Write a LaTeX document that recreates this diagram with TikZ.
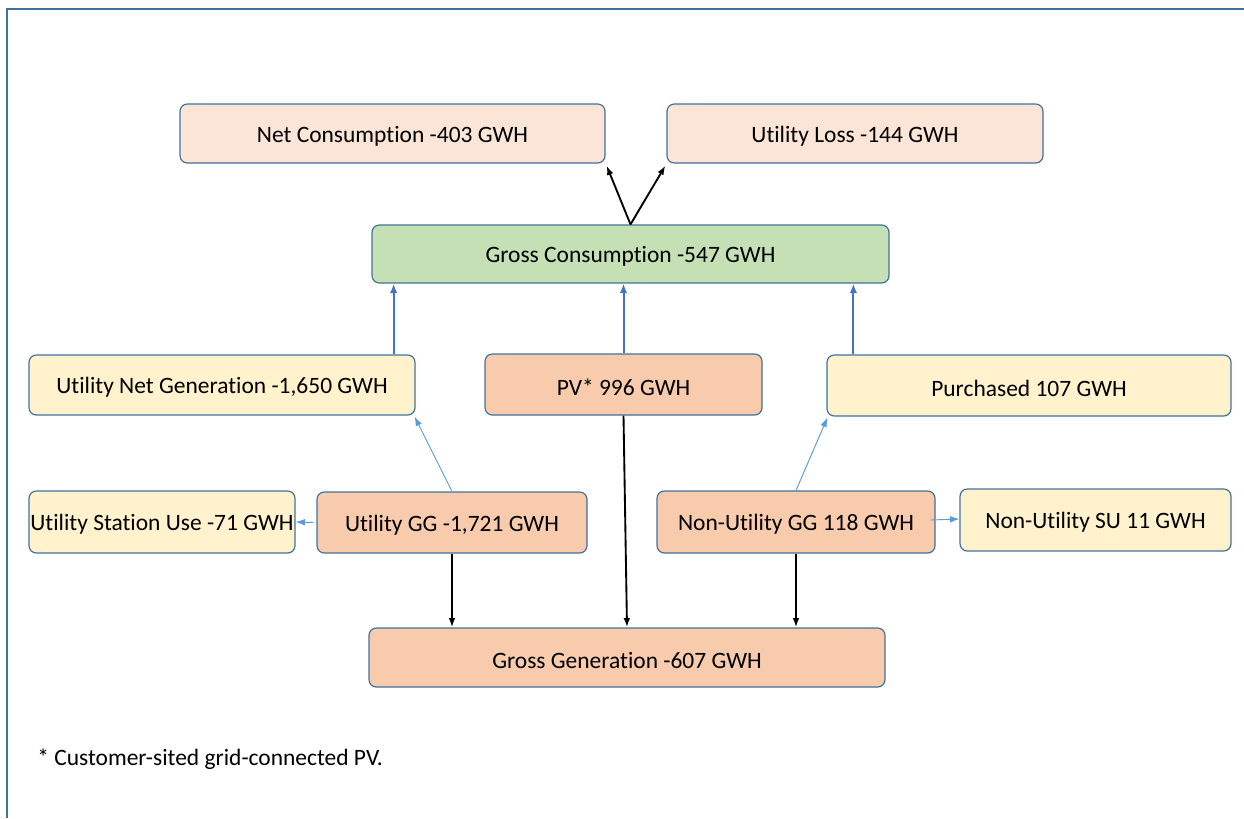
\documentclass[tikz,border=0pt]{standalone}
\usepackage{fontspec}
\setmainfont{Carlito}[Ligatures={NoCommon}]
\usetikzlibrary{arrows.meta,calc}
\definecolor{edge}{HTML}{41719C}
\definecolor{peach}{HTML}{FBE5D6}
\definecolor{greenf}{HTML}{C5E0B4}
\definecolor{yellowf}{HTML}{FFF2CC}
\definecolor{orangef}{HTML}{F8CBAD}
\definecolor{blueline}{HTML}{4472C4}
\definecolor{lightblue}{HTML}{5B9BD5}
\begin{document}
\begin{tikzpicture}[x=0.75pt,y=-0.75pt,
  box/.style={draw=edge, line width=0.9pt, rounded corners=5.5pt, inner sep=0pt,
    font=\fontsize{17.6}{21}\selectfont},
  blk/.style={-{Latex[length=7pt,width=5pt]}, line width=1.4pt, black},
  blu/.style={-{Latex[length=7pt,width=5.5pt]}, line width=1.5pt, blueline},
  thin/.style={-{Latex[length=7pt,width=5pt]}, line width=0.7pt, lightblue}]
\useasboundingbox (0,0) rectangle (1244,818);
\draw[edge, line width=1pt] (7,818) -- (7,9) -- (1244,9);
\newcommand\mybox[7]{\node[box, fill=#2, minimum width={#5*0.75pt}, minimum height={#6*0.75pt}] (#1) at (#3,#4) {\raisebox{-2pt}[\height][\depth]{#7}};}
\mybox{net}{peach}{392.5}{133.5}{425}{59}{Net Consumption -403 GWH}
\mybox{loss}{peach}{855}{133.5}{376}{59}{Utility Loss -144 GWH}
\mybox{gc}{greenf}{630.5}{254}{517}{58}{Gross Consumption -547 GWH}
\mybox{ung}{yellowf}{222}{385}{386}{60}{Utility Net Generation -1,650 GWH}
\mybox{pv}{orangef}{623.5}{384.5}{277}{61}{PV* 996 GWH}
\mybox{pur}{yellowf}{1029}{385.5}{404}{61}{Purchased 107 GWH}
\mybox{usu}{yellowf}{162}{522}{266}{62}{Utility Station Use -71 GWH}
\mybox{ugg}{orangef}{452}{522.5}{270}{61}{Utility GG -1,721 GWH}
\mybox{nugg}{orangef}{796}{522}{278}{62}{Non-Utility GG 118 GWH}
\mybox{nusu}{yellowf}{1095.5}{520}{271}{62}{Non-Utility SU 11 GWH}
\mybox{gg}{orangef}{627}{657.5}{516}{59}{Gross Generation -607 GWH}
\node[anchor=base west, inner sep=0pt, font=\fontsize{17.6}{21}\selectfont] (note) at (37,765) {* Customer-sited grid-connected PV.};
% top black arrows
\draw[blk] (gc.north) -- ($(net.south east)+(1,2)$);
\draw[blk] (gc.north) -- ($(loss.south west)+(-1,2)$);
% blue up arrows
\draw[blu] ($(ung.north east)+(-22,0)$) coordinate (a1) -- (a1 |- gc.south);
\draw[blu] (pv.north) -- (pv.north |- gc.south);
\draw[blu] ($(pur.north west)+(27,0)$) coordinate (a3) -- (a3 |- gc.south);
% thin light blue
\draw[thin] (ugg.north) -- ($(ung.south east)+(-1,1)$);
\draw[thin] (nugg.north) -- ($(pur.south west)+(1,1)$);
\draw[thin] ($(ugg.west)+(-3,0)$) -- (usu.east);
\draw[thin] ($(nugg.east)+(-5,-2)$) -- ($(nusu.west)+(0,-1)$);
% black down arrows
\draw[blk] (ugg.south) -- (ugg.south |- gg.north);
\draw[blk] (pv.south) -- (gg.north);
\draw[blk] (nugg.south) -- (nugg.south |- gg.north);
\end{tikzpicture}
\end{document}
